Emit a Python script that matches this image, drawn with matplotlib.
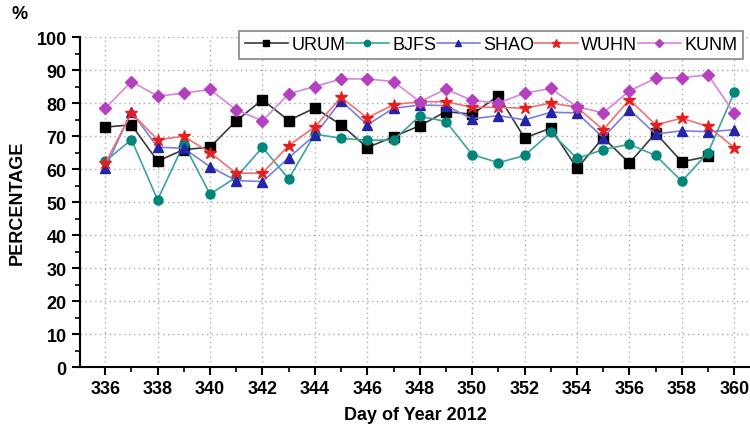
import numpy as np
import matplotlib
matplotlib.use("Agg")
from matplotlib import pyplot as plt
from matplotlib.ticker import MultipleLocator

plt.rcParams['font.family'] = ['Liberation Sans', 'DejaVu Sans']

# day of year
days = list(range(336, 361))

# percentages (URUM has no value at 360)
urum = [72.7, 73.4, 62.4, 65.9, 66.6, 74.6, 81.0, 74.7, 78.5, 73.4, 66.5, 69.8, 73.1,
        77.4, 76.6, 82.2, 69.4, 72.4, 60.2, 69.5, 61.8, 70.9, 62.2, 63.8, np.nan]
bjfs = [62.3, 68.9, 50.7, 67.6, 52.4, 57.5, 66.6, 57.0, 70.6, 69.3, 68.7, 68.8, 76.0,
        74.4, 64.4, 61.9, 64.1, 71.1, 63.2, 65.9, 67.5, 64.1, 56.3, 65.0, 83.2]
shao = [60.2, 77.4, 66.6, 66.3, 60.7, 56.5, 56.2, 63.4, 70.3, 80.7, 73.4, 78.4, 79.4,
        79.2, 75.2, 76.2, 74.9, 77.2, 77.0, 69.5, 78.0, 70.6, 71.6, 71.3, 71.9]
wuhn = [61.7, 77.0, 68.9, 69.9, 65.0, 58.7, 58.8, 67.1, 72.8, 81.7, 75.5, 79.5, 80.4,
        80.4, 78.7, 78.7, 78.4, 80.0, 78.7, 71.9, 81.0, 73.4, 75.4, 72.9, 66.5]
kunm = [78.4, 86.5, 82.1, 83.0, 84.1, 77.9, 74.6, 82.8, 85.0, 87.3, 87.3, 86.5, 80.4,
        84.2, 80.8, 80.0, 83.0, 84.4, 78.9, 77.0, 83.7, 87.5, 87.7, 88.5, 76.9]

fig = plt.figure(figsize=(7.5, 4.27), dpi=100)
ax = fig.add_axes([0.1067, 0.138, 0.8933, 0.773])

# station, data, marker, line colour, marker colour
series = [
    ("URUM", urum, "s", "#3a3a3a", "black"),
    ("BJFS", bjfs, "o", "#3aa59a", "#00857a"),
    ("SHAO", shao, "^", "#7d7de0", "#2424a8"),
    ("WUHN", wuhn, "*", "#f07070", "#e61e1e"),
    ("KUNM", kunm, "D", "#d884dc", "#b440c0"),
]
for name, vals, mk, lc, mc in series:
    ms = 9 if mk == "*" else 6.5
    if mk == "D":
        ms = 6
    ax.plot(days, vals, color=lc, lw=1.2, marker=mk, markersize=ms,
            markerfacecolor=mc, markeredgecolor=mc, label=name)

ax.set_xlim(335.04, 360.6)
ax.set_ylim(0, 100)
ax.xaxis.set_major_locator(MultipleLocator(2))
ax.xaxis.set_minor_locator(MultipleLocator(1))
ax.yaxis.set_major_locator(MultipleLocator(10))
ax.yaxis.set_minor_locator(MultipleLocator(5))

ax.spines["top"].set_visible(False)
ax.spines["right"].set_visible(False)
ax.spines["left"].set_linewidth(1.5)
ax.spines["bottom"].set_linewidth(1.5)
ax.tick_params(which="major", direction="out", length=6, width=1.5, labelsize=13)
ax.tick_params(which="minor", direction="out", length=3.5, width=1.2)
for lab in ax.get_xticklabels() + ax.get_yticklabels():
    lab.set_fontweight("bold")

ax.grid(True, which="major", linestyle=(0, (1, 2.5)), color="#aaaaaa", lw=1.0)

ax.set_xlabel("Day of Year 2012", fontsize=13, fontweight="bold", labelpad=6)
ax.set_ylabel("PERCENTAGE", fontsize=13, fontweight="bold", labelpad=8)
fig.text(0.016, 0.965, "%", fontsize=13, fontweight="bold", va="center")

leg = ax.legend(loc="upper right", bbox_to_anchor=(0.9896, 1.018), ncol=5,
                fontsize=13, frameon=True, fancybox=False, handlelength=2.4,
                handletextpad=0.2, columnspacing=0.0, borderpad=0.3,
                borderaxespad=0.0, markerscale=0.7)
leg.get_frame().set_edgecolor("#666666")
leg.get_frame().set_linewidth(1.2)

fig.savefig("out.png", dpi=100)
